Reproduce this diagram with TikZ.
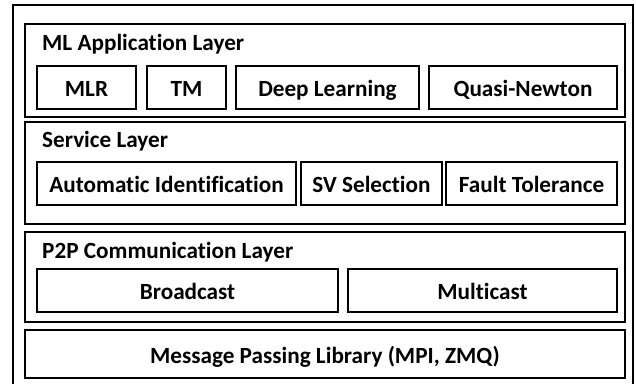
\documentclass[tikz,border=0pt]{standalone}
\usepackage{fontspec}
\setmainfont{Carlito}[Ligatures=NoCommon]
\begin{document}
\begin{tikzpicture}[x=1pt,y=-1pt,
  layerbox/.style={draw, line width=1.9pt, inner sep=0pt, outer sep=0pt},
  itembox/.style={draw, line width=1.7pt, inner sep=0pt, outer sep=0pt, minimum height=43pt, text height=19pt, text depth=2pt, font=\fontsize{23.2}{26}\selectfont\bfseries},
  titletext/.style={anchor=base west, inner sep=0pt, font=\fontsize{23.2}{26}\selectfont\bfseries}]
\useasboundingbox (0,0) rectangle (636,383);
\draw[line width=1.6pt] (13,395) -- (13,5) -- (633,5) -- (633,395);
% layers
\node[layerbox, minimum width=600pt, minimum height=93pt] (app) at (325,70.5) {};
\node[layerbox, minimum width=600pt, minimum height=102pt] (svc) at (325,173) {};
\node[layerbox, minimum width=600pt, minimum height=90pt] (p2p) at (325,277) {};
\node[layerbox, minimum width=600pt, minimum height=48pt, text height=19.5pt, text depth=1pt, font=\fontsize{23.2}{26}\selectfont\bfseries] (mpl) at (325,354) {Message Passing Library (MPI, ZMQ)};
% titles
\node[titletext] (t1) at (42,50) {ML Application Layer};
\node[titletext] (t2) at (42,147) {Service Layer};
\node[titletext] (t3) at (42,258) {P2P Communication Layer};
% row 1
\node[itembox, minimum width=99pt] (mlr) at (86.5,87.5) {MLR};
\node[itembox, minimum width=79pt] (tm) at (186.5,87.5) {TM};
\node[itembox, minimum width=183pt] (dl) at (327.5,87.5) {Deep Learning};
\node[itembox, minimum width=188pt] (qn) at (523,87.5) {Quasi-Newton};
% row 2
\node[itembox, minimum width=259pt] (ai) at (166.5,183.5) {Automatic Identification};
\node[itembox, minimum width=141pt] (sv) at (371.5,183.5) {SV Selection};
\node[itembox, minimum width=171pt] (ft) at (531.5,183.5) {Fault Tolerance};
% row 3
\node[itembox, minimum width=301pt] (bc) at (187.5,290.5) {Broadcast};
\node[itembox, minimum width=269pt] (mc) at (482.5,290.5) {Multicast};
\end{tikzpicture}
\end{document}
